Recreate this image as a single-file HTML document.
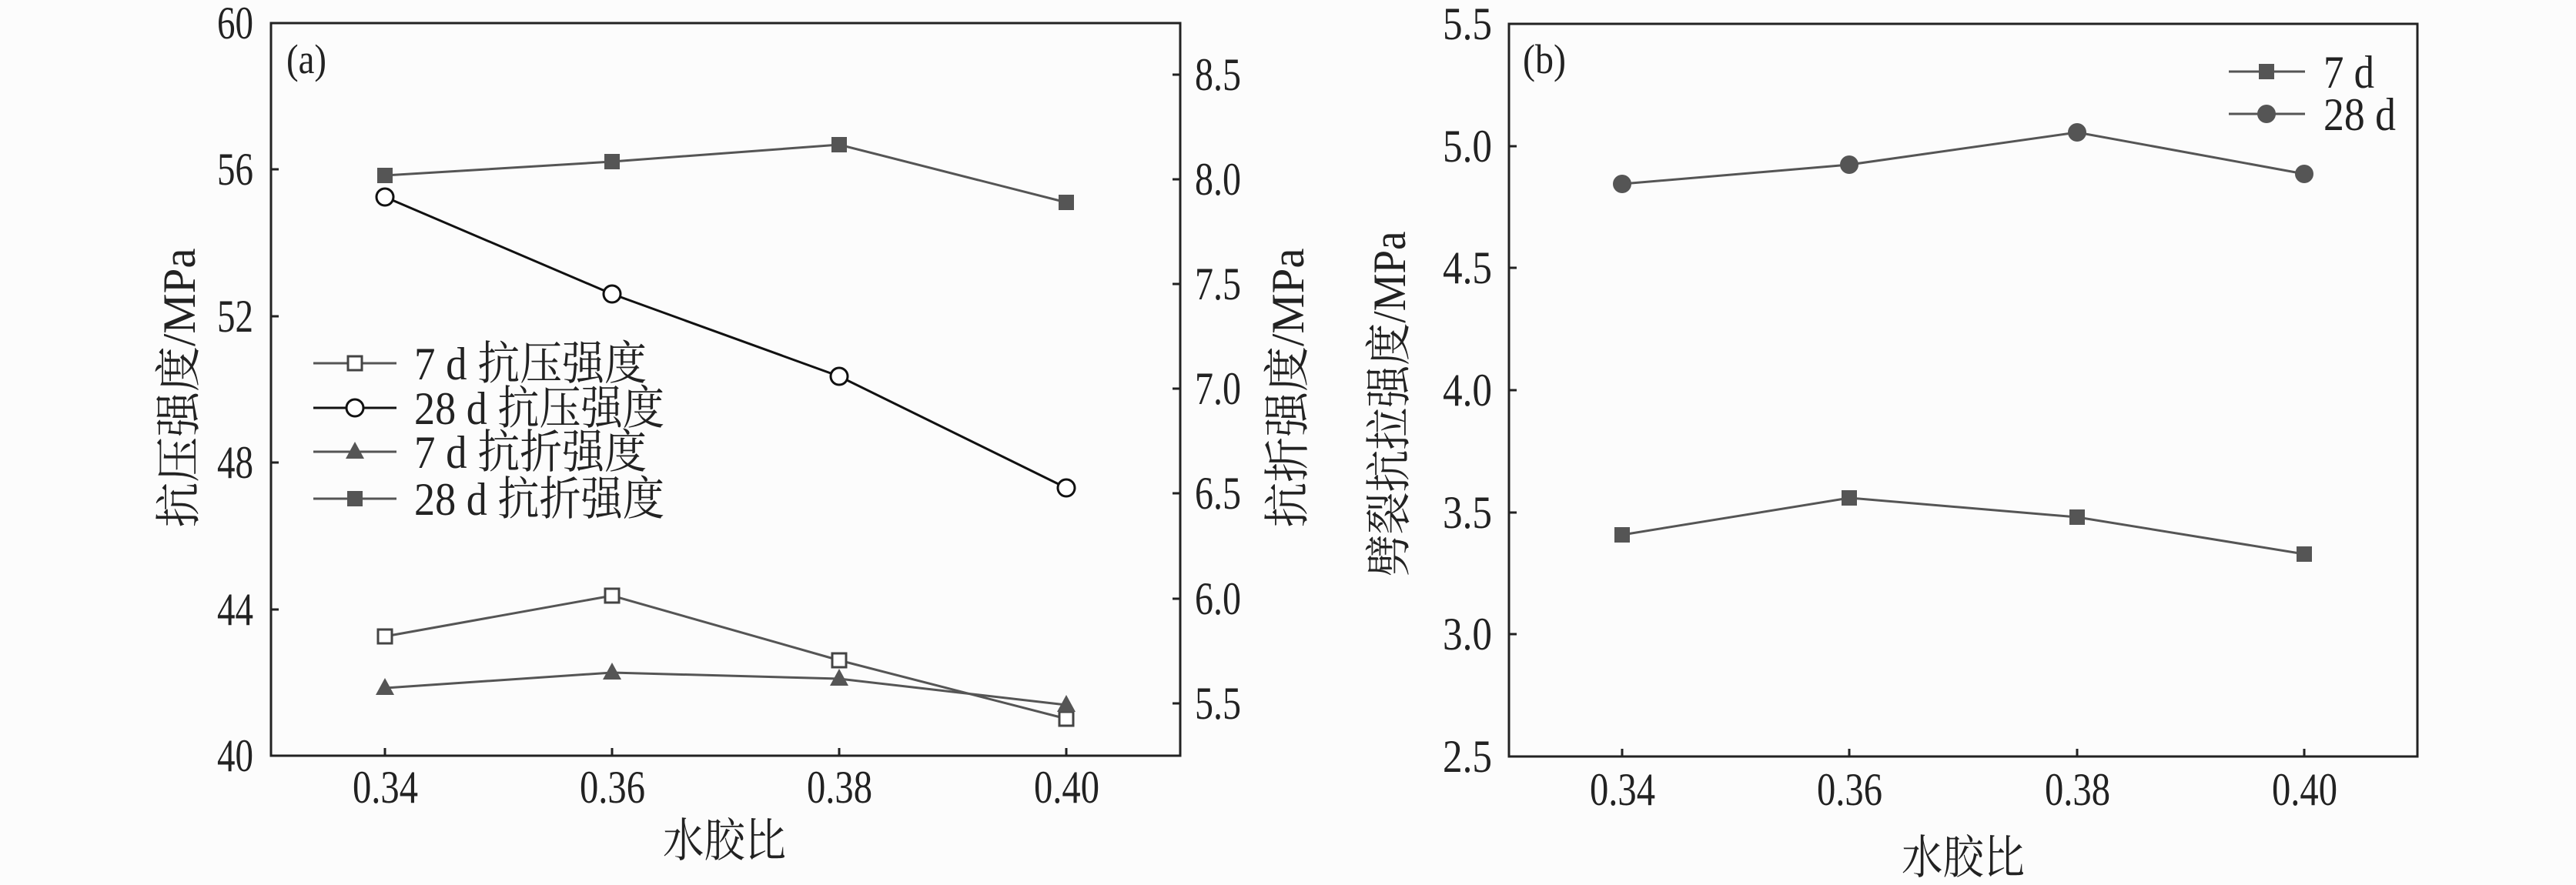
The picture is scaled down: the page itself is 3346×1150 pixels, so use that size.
<!DOCTYPE html>
<html><head><meta charset="utf-8"><style>
html,body{margin:0;padding:0;background:#fcfcfc;}
svg text{font-family:"Liberation Serif","Noto Serif CJK SC","Noto Sans CJK SC",serif;fill:#222;}
</style></head><body>
<svg width="3346" height="1145" viewBox="0 0 3346 1145" xmlns="http://www.w3.org/2000/svg">
<rect width="3346" height="1145" fill="#fcfcfc"/>
<!-- Panel a -->
<g stroke="#222" stroke-width="3" fill="none">
<rect x="352" y="30" width="1181" height="952"/>
<line x1="352" y1="30" x2="362" y2="30"/><line x1="352" y1="220" x2="362" y2="220"/>
<line x1="352" y1="411" x2="362" y2="411"/><line x1="352" y1="601" x2="362" y2="601"/>
<line x1="352" y1="792" x2="362" y2="792"/><line x1="352" y1="982" x2="362" y2="982"/>
<line x1="1523" y1="97" x2="1533" y2="97"/><line x1="1523" y1="233" x2="1533" y2="233"/>
<line x1="1523" y1="369" x2="1533" y2="369"/><line x1="1523" y1="505" x2="1533" y2="505"/>
<line x1="1523" y1="641" x2="1533" y2="641"/><line x1="1523" y1="778" x2="1533" y2="778"/>
<line x1="1523" y1="914" x2="1533" y2="914"/>
<line x1="500" y1="982" x2="500" y2="972"/><line x1="795" y1="982" x2="795" y2="972"/>
<line x1="1090" y1="982" x2="1090" y2="972"/><line x1="1385" y1="982" x2="1385" y2="972"/>
</g>
<g font-size="60" lengthAdjust="spacingAndGlyphs">
<text x="282" y="50" textLength="47" lengthAdjust="spacingAndGlyphs">60</text>
<text x="282" y="240" textLength="47" lengthAdjust="spacingAndGlyphs">56</text>
<text x="282" y="431" textLength="47" lengthAdjust="spacingAndGlyphs">52</text>
<text x="282" y="621" textLength="47" lengthAdjust="spacingAndGlyphs">48</text>
<text x="282" y="812" textLength="47" lengthAdjust="spacingAndGlyphs">44</text>
<text x="282" y="1002" textLength="47" lengthAdjust="spacingAndGlyphs">40</text>
</g>
<g font-size="60">
<text x="1552" y="117" textLength="60" lengthAdjust="spacingAndGlyphs">8.5</text>
<text x="1552" y="253" textLength="60" lengthAdjust="spacingAndGlyphs">8.0</text>
<text x="1552" y="389" textLength="60" lengthAdjust="spacingAndGlyphs">7.5</text>
<text x="1552" y="525" textLength="60" lengthAdjust="spacingAndGlyphs">7.0</text>
<text x="1552" y="661" textLength="60" lengthAdjust="spacingAndGlyphs">6.5</text>
<text x="1552" y="798" textLength="60" lengthAdjust="spacingAndGlyphs">6.0</text>
<text x="1552" y="934" textLength="60" lengthAdjust="spacingAndGlyphs">5.5</text>
</g>
<g font-size="60">
<text x="458" y="1043" textLength="85" lengthAdjust="spacingAndGlyphs">0.34</text>
<text x="753" y="1043" textLength="85" lengthAdjust="spacingAndGlyphs">0.36</text>
<text x="1048" y="1043" textLength="85" lengthAdjust="spacingAndGlyphs">0.38</text>
<text x="1343" y="1043" textLength="85" lengthAdjust="spacingAndGlyphs">0.40</text>
<text x="861" y="1113" textLength="160" lengthAdjust="spacingAndGlyphs">水胶比</text>
</g>
<text x="372" y="95" font-size="54" textLength="52" lengthAdjust="spacingAndGlyphs">(a)</text>
<text transform="translate(253,504) rotate(-90)" font-size="60" text-anchor="middle" textLength="363" lengthAdjust="spacingAndGlyphs">抗压强度/MPa</text>
<text transform="translate(1693,504) rotate(-90)" font-size="60" text-anchor="middle" textLength="363" lengthAdjust="spacingAndGlyphs">抗折强度/MPa</text>
<!-- series a -->
<polyline points="500,228 795,210 1090,188 1385,263" fill="none" stroke="#555" stroke-width="3"/>
<g fill="#555"><rect x="490" y="218" width="20" height="20"/><rect x="785" y="200" width="20" height="20"/><rect x="1080" y="178" width="20" height="20"/><rect x="1375" y="253" width="20" height="20"/></g>
<polyline points="500,256 795,382 1090,489 1385,634" fill="none" stroke="#111" stroke-width="3"/>
<g fill="#fff" stroke="#111" stroke-width="3"><circle cx="500" cy="256" r="11"/><circle cx="795" cy="382" r="11"/><circle cx="1090" cy="489" r="11"/><circle cx="1385" cy="634" r="11"/></g>
<polyline points="500,827 795,774 1090,858 1385,934" fill="none" stroke="#555" stroke-width="3"/>
<g fill="#fff" stroke="#444" stroke-width="3"><rect x="491" y="818" width="18" height="18"/><rect x="786" y="765" width="18" height="18"/><rect x="1081" y="849" width="18" height="18"/><rect x="1376" y="925" width="18" height="18"/></g>
<polyline points="500,894 795,874 1090,882 1385,916" fill="none" stroke="#555" stroke-width="3"/>
<g fill="#555"><polygon points="500,881 512,903 488,903"/><polygon points="795,861 807,883 783,883"/><polygon points="1090,869 1102,891 1078,891"/><polygon points="1385,903 1397,925 1373,925"/></g>
<!-- legend a -->
<g stroke-width="3">
<line x1="407" y1="472" x2="515" y2="472" stroke="#555"/><rect x="452" y="463" width="18" height="18" fill="#fff" stroke="#444"/>
<line x1="407" y1="530" x2="515" y2="530" stroke="#111"/><circle cx="461" cy="530" r="11" fill="#fff" stroke="#111"/>
<line x1="407" y1="587" x2="515" y2="587" stroke="#555"/><polygon points="461,574 473,596 449,596" fill="#555" stroke="none"/>
<line x1="407" y1="648" x2="515" y2="648" stroke="#555"/><rect x="451" y="638" width="20" height="20" fill="#555" stroke="none"/>
</g>
<g font-size="60">
<text x="538" y="493" textLength="302" lengthAdjust="spacingAndGlyphs">7 d 抗压强度</text>
<text x="538" y="551" textLength="325" lengthAdjust="spacingAndGlyphs">28 d 抗压强度</text>
<text x="538" y="608" textLength="302" lengthAdjust="spacingAndGlyphs">7 d 抗折强度</text>
<text x="538" y="669" textLength="325" lengthAdjust="spacingAndGlyphs">28 d 抗折强度</text>
</g>
<!-- Panel b -->
<g stroke="#222" stroke-width="3" fill="none">
<rect x="1960" y="31" width="1180" height="952"/>
<line x1="1960" y1="31" x2="1970" y2="31"/><line x1="1960" y1="190" x2="1970" y2="190"/>
<line x1="1960" y1="348" x2="1970" y2="348"/><line x1="1960" y1="507" x2="1970" y2="507"/>
<line x1="1960" y1="666" x2="1970" y2="666"/><line x1="1960" y1="824" x2="1970" y2="824"/>
<line x1="1960" y1="983" x2="1970" y2="983"/>
<line x1="2107" y1="983" x2="2107" y2="973"/><line x1="2402" y1="983" x2="2402" y2="973"/>
<line x1="2698" y1="983" x2="2698" y2="973"/><line x1="2993" y1="983" x2="2993" y2="973"/>
</g>
<g font-size="60">
<text x="1874" y="51" textLength="64" lengthAdjust="spacingAndGlyphs">5.5</text>
<text x="1874" y="210" textLength="64" lengthAdjust="spacingAndGlyphs">5.0</text>
<text x="1874" y="368" textLength="64" lengthAdjust="spacingAndGlyphs">4.5</text>
<text x="1874" y="527" textLength="64" lengthAdjust="spacingAndGlyphs">4.0</text>
<text x="1874" y="686" textLength="64" lengthAdjust="spacingAndGlyphs">3.5</text>
<text x="1874" y="844" textLength="64" lengthAdjust="spacingAndGlyphs">3.0</text>
<text x="1874" y="1003" textLength="64" lengthAdjust="spacingAndGlyphs">2.5</text>
</g>
<g font-size="60">
<text x="2065" y="1046" textLength="85" lengthAdjust="spacingAndGlyphs">0.34</text>
<text x="2360" y="1046" textLength="85" lengthAdjust="spacingAndGlyphs">0.36</text>
<text x="2656" y="1046" textLength="85" lengthAdjust="spacingAndGlyphs">0.38</text>
<text x="2951" y="1046" textLength="85" lengthAdjust="spacingAndGlyphs">0.40</text>
<text x="2470" y="1135" textLength="160" lengthAdjust="spacingAndGlyphs">水胶比</text>
</g>
<text x="1978" y="95" font-size="54" textLength="56" lengthAdjust="spacingAndGlyphs">(b)</text>
<text transform="translate(1825,525) rotate(-90)" font-size="60" text-anchor="middle" textLength="449" lengthAdjust="spacingAndGlyphs">劈裂抗拉强度/MPa</text>
<polyline points="2107,239 2402,214 2698,172 2993,226" fill="none" stroke="#555" stroke-width="3"/>
<g fill="#555"><circle cx="2107" cy="239" r="12"/><circle cx="2402" cy="214" r="12"/><circle cx="2698" cy="172" r="12"/><circle cx="2993" cy="226" r="12"/></g>
<polyline points="2107,695 2402,647 2698,672 2993,720" fill="none" stroke="#555" stroke-width="3"/>
<g fill="#555"><rect x="2097" y="685" width="20" height="20"/><rect x="2392" y="637" width="20" height="20"/><rect x="2688" y="662" width="20" height="20"/><rect x="2983" y="710" width="20" height="20"/></g>
<line x1="2895" y1="93" x2="2994" y2="93" stroke="#555" stroke-width="3"/><rect x="2934" y="83" width="20" height="20" fill="#555"/>
<line x1="2895" y1="148" x2="2994" y2="148" stroke="#555" stroke-width="3"/><circle cx="2944" cy="148" r="12" fill="#555"/>
<g font-size="60">
<text x="3018" y="114" textLength="66" lengthAdjust="spacingAndGlyphs">7 d</text>
<text x="3018" y="169" textLength="94" lengthAdjust="spacingAndGlyphs">28 d</text>
</g>
</svg>
</body></html>
